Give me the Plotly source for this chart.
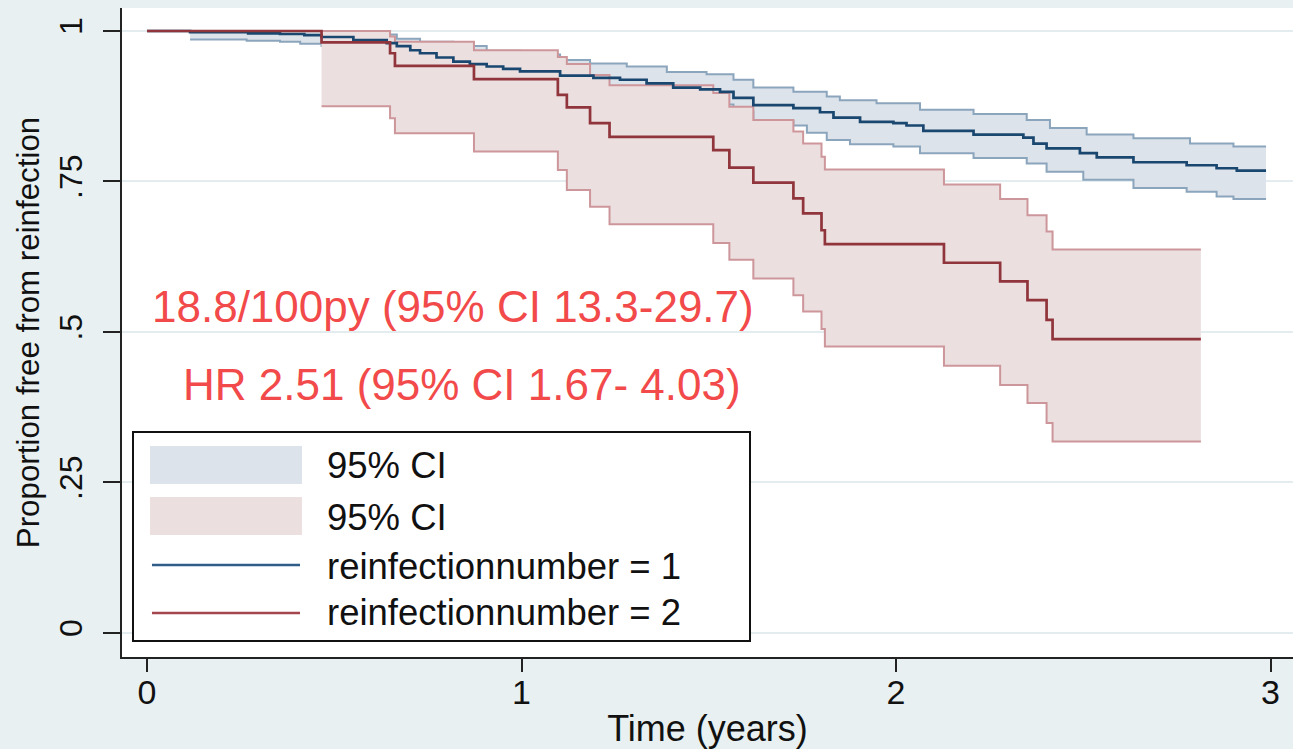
import plotly.graph_objects as go

# ---- data ----
blue_t = [0, 0.115, 0.27, 0.355, 0.42, 0.466, 0.551, 0.640, 0.667, 0.703, 0.729, 0.773, 0.818,
          0.862, 0.907, 0.951, 0.996, 1.103, 1.192, 1.263, 1.334, 1.405, 1.477, 1.530, 1.566,
          1.619, 1.726, 1.797, 1.833, 1.904, 1.993, 2.028, 2.073, 2.207, 2.340, 2.367, 2.402,
          2.491, 2.536, 2.634, 2.776, 2.856, 2.910, 2.988]
blue_s = [1.0, 0.998, 0.996, 0.995, 0.993, 0.990, 0.985, 0.980, 0.975, 0.968, 0.963, 0.956, 0.949,
          0.945, 0.941, 0.937, 0.933, 0.926, 0.922, 0.919, 0.913, 0.906, 0.903, 0.899, 0.889,
          0.877, 0.872, 0.865, 0.856, 0.849, 0.847, 0.843, 0.834, 0.828, 0.823, 0.813, 0.805,
          0.797, 0.790, 0.782, 0.777, 0.772, 0.768, 0.768]

blue_up_t = [0.115, 0.466, 0.551, 0.640, 0.667, 0.729, 0.818, 0.907, 0.996, 1.103, 1.183, 1.281,
             1.388, 1.494, 1.566, 1.619, 1.726, 1.815, 1.850, 1.948, 2.064, 2.207, 2.349, 2.411,
             2.509, 2.634, 2.785, 2.901, 2.988]
blue_up_s = [1.0, 0.999, 0.997, 0.994, 0.987, 0.982, 0.975, 0.967, 0.961, 0.952, 0.946, 0.941,
             0.932, 0.928, 0.919, 0.906, 0.899, 0.891, 0.885, 0.880, 0.869, 0.862, 0.852, 0.839,
             0.828, 0.822, 0.813, 0.808, 0.808]

blue_lo_t = [0.115, 0.266, 0.355, 0.409, 0.466, 0.551, 0.640, 0.667, 0.729, 0.818, 0.907, 0.996,
             1.103, 1.192, 1.334, 1.477, 1.566, 1.619, 1.726, 1.762, 1.815, 1.877, 1.993, 2.064,
             2.207, 2.349, 2.402, 2.500, 2.634, 2.776, 2.856, 2.901, 2.988]
blue_lo_s = [0.986, 0.984, 0.982, 0.979, 0.975, 0.968, 0.962, 0.955, 0.946, 0.935, 0.925, 0.916,
             0.905, 0.899, 0.889, 0.878, 0.866, 0.850, 0.843, 0.831, 0.819, 0.812, 0.808, 0.797,
             0.789, 0.780, 0.766, 0.753, 0.739, 0.733, 0.725, 0.721, 0.721]

red_t = [0, 0.466, 0.649, 0.662, 0.873, 1.097, 1.121, 1.183, 1.235, 1.512, 1.555, 1.619, 1.726,
         1.752, 1.801, 1.810, 2.128, 2.278, 2.351, 2.402, 2.418, 2.814]
red_s = [1.0, 0.981, 0.963, 0.942, 0.920, 0.894, 0.873, 0.847, 0.824, 0.802, 0.773, 0.748, 0.722,
         0.697, 0.669, 0.646, 0.615, 0.584, 0.553, 0.520, 0.488, 0.488]

red_ci_t = [0.466, 0.649, 0.662, 0.873, 1.097, 1.121, 1.183, 1.235, 1.512, 1.555, 1.619, 1.726,
            1.752, 1.801, 1.810, 2.128, 2.278, 2.351, 2.402, 2.418, 2.814]
red_up_s = [1.0, 0.991, 0.982, 0.968, 0.957, 0.945, 0.927, 0.910, 0.897, 0.874, 0.852, 0.833,
            0.813, 0.791, 0.770, 0.745, 0.721, 0.694, 0.667, 0.637, 0.637]
red_lo_s = [0.875, 0.855, 0.830, 0.800, 0.769, 0.736, 0.708, 0.679, 0.648, 0.620, 0.589, 0.561,
            0.534, 0.505, 0.476, 0.444, 0.412, 0.382, 0.349, 0.318, 0.318]

x_ticks = [0, 1, 2, 3]
y_ticks = [0, 0.25, 0.5, 0.75, 1]
y_tick_labels = ["0", ".25", ".5", ".75", "1"]

legend_labels = ["95% CI", "95% CI", "reinfectionnumber = 1", "reinfectionnumber = 2"]
note_rate = "18.8/100py (95% CI 13.3-29.7)"
note_hr = "HR 2.51 (95% CI 1.67- 4.03)"

# ---- styles ----
FONT = "Liberation Sans, Arial, Helvetica, sans-serif"
BLUE = "#1a476f"
RED = "#90353b"
BLUE_FILL = "#dce3ea"
RED_FILL = "#ecdfe0"
BLUE_EDGE = "#8ba5bd"
RED_EDGE = "#cd969a"
BG = "#e8f0f2"
GRID = "#e3edef"

fig = go.Figure()


def band(t_lo, s_lo, t_up, s_up, fill, edge):
    fig.add_trace(go.Scatter(x=t_lo, y=s_lo, mode="lines", line=dict(width=0, shape="hv"),
                             showlegend=False, hoverinfo="skip"))
    fig.add_trace(go.Scatter(x=t_up, y=s_up, mode="lines", line=dict(width=0, shape="hv"),
                             fill="tonexty", fillcolor=fill, showlegend=False, hoverinfo="skip"))
    fig.add_trace(go.Scatter(x=t_lo, y=s_lo, mode="lines", line=dict(width=2, shape="hv", color=edge),
                             showlegend=False))
    fig.add_trace(go.Scatter(x=t_up, y=s_up, mode="lines", line=dict(width=2, shape="hv", color=edge),
                             showlegend=False))


band(blue_lo_t, blue_lo_s, blue_up_t, blue_up_s, BLUE_FILL, BLUE_EDGE)
band(red_ci_t, red_lo_s, red_ci_t, red_up_s, RED_FILL, RED_EDGE)

fig.add_trace(go.Scatter(x=blue_t, y=blue_s, mode="lines", line=dict(width=2.7, shape="hv", color=BLUE),
                         name=legend_labels[2], showlegend=False))
fig.add_trace(go.Scatter(x=red_t, y=red_s, mode="lines", line=dict(width=2.7, shape="hv", color=RED),
                         name=legend_labels[3], showlegend=False))

# ---- annotations ----
fig.add_annotation(x=0.2827, y=0.5393, xref="paper", yref="paper", text=note_rate, showarrow=False,
                   font=dict(family=FONT, size=44, color="#f24a4a"), xanchor="center", yanchor="middle")
fig.add_annotation(x=0.2903, y=0.4206, xref="paper", yref="paper", text=note_hr, showarrow=False,
                   font=dict(family=FONT, size=44, color="#f24a4a"), xanchor="center", yanchor="middle")

# ---- legend (drawn box) ----
fig.add_shape(type="rect", xref="paper", yref="paper", x0=0.0094, x1=0.5363, y0=0.0247, y1=0.3467,
              line=dict(color="#111111", width=2), fillcolor="white", layer="above")
fig.add_shape(type="rect", xref="paper", yref="paper", x0=0.0239, x1=0.1537, y0=0.2666, y1=0.3251,
              line=dict(width=0), fillcolor=BLUE_FILL, layer="above")
fig.add_shape(type="rect", xref="paper", yref="paper", x0=0.0239, x1=0.1537, y0=0.1880, y1=0.2465,
              line=dict(width=0), fillcolor=RED_FILL, layer="above")
fig.add_shape(type="line", xref="paper", yref="paper", x0=0.0256, x1=0.1520, y0=0.1418, y1=0.1418,
              line=dict(color="#2f5d87", width=2.5), layer="above")
fig.add_shape(type="line", xref="paper", yref="paper", x0=0.0256, x1=0.1520, y0=0.0678, y1=0.0678,
              line=dict(color="#a3464d", width=2.5), layer="above")
for lab, yy in zip(legend_labels, [0.2943, 0.2142, 0.1402, 0.0678]):
    fig.add_annotation(x=0.1734, y=yy, xref="paper", yref="paper", text=lab, showarrow=False,
                       xanchor="left", yanchor="middle", font=dict(family=FONT, size=36.5, color="#111111"))

fig.update_layout(
    width=1293, height=749,
    margin=dict(l=122, r=0, t=8, b=92),
    paper_bgcolor=BG, plot_bgcolor="white",
    font=dict(family=FONT, color="#111111"),
    showlegend=False,
)
fig.update_xaxes(range=[-0.0668, 3.060], tickvals=x_ticks, ticktext=[str(v) for v in x_ticks],
                 automargin=False, ticklabelstandoff=-9,
                 showgrid=False, zeroline=False, showline=True, linecolor="#222222", linewidth=2,
                 ticks="outside", ticklen=13, tickwidth=2, tickcolor="#222222",
                 tickfont=dict(size=34), title=dict(text="Time (years)", font=dict(size=36), standoff=14))
fig.update_yaxes(range=[-0.0399, 1.0382], tickvals=y_ticks, ticktext=y_tick_labels, tickangle=-90,
                 automargin=False, ticklabelstandoff=8,
                 showgrid=True, gridcolor=GRID, gridwidth=2, zeroline=False,
                 showline=True, linecolor="#222222", linewidth=2,
                 ticks="outside", ticklen=17, tickwidth=2, tickcolor="#222222",
                 tickfont=dict(size=32), title=dict(text="Proportion free from reinfection", font=dict(size=31.3), standoff=4))

fig.write_html("out.html", config={"displayModeBar": False},
               post_script="document.body.style.margin='0';document.body.style.background='%s';" % BG)
